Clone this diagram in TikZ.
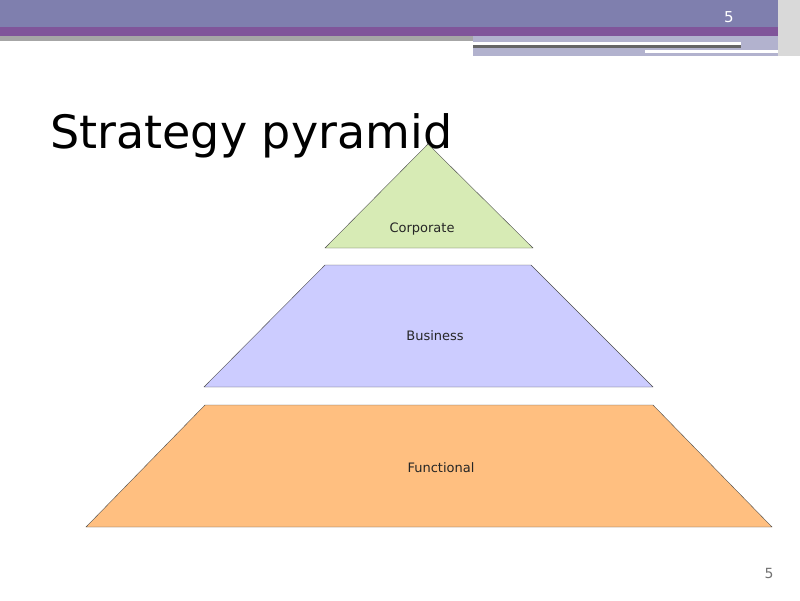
\documentclass[tikz,border=0pt]{standalone}
\usepackage{fontspec}
\setmainfont{DejaVu Sans}
\definecolor{bannerblue}{HTML}{7F7FAE}
\definecolor{bannerpurple}{HTML}{80559A}
\definecolor{corpgreen}{HTML}{D7EBB5}
\definecolor{busblue}{HTML}{CCCCFF}
\definecolor{funcorange}{HTML}{FFBF80}
\tikzset{
	level/.style={draw=black!70, thin},
	levellabel/.style={font=\fontsize{13}{15}\selectfont, text=black!85}
}
\begin{document}
\begin{tikzpicture}[x=1pt,y=-1pt]
	\useasboundingbox (0,0) rectangle (800,600);
	% banner
	\fill[bannerblue] (0,0) rectangle (778,27);
	\fill[bannerpurple] (0,27) rectangle (778,36);
	\fill[black!35] (0,36) rectangle (473,41);
	\fill[bannerblue!60] (473,36) rectangle (778,56);
	\fill[white] (473,42) rectangle (741,45);
	\fill[black!60] (473,45) rectangle (741,48);
	\fill[white] (645,50) rectangle (778,53);
	\fill[black!15] (778,0) rectangle (800,56);
	\node[text=white, font=\fontsize{15}{17}\selectfont] (topnum) at (729,17) {5};
	
	% title
	\node[anchor=base west, inner sep=0, font=\fontsize{46}{50}\selectfont] (title) at (50,148) {Strategy pyramid};
	
	% levels
	\draw[level, fill=corpgreen] (428,144) -- (533,248) -- (325,248) -- cycle;
	\draw[level, fill=busblue] (325,265) -- (531,265) -- (653,387) -- (204,387) -- cycle;
	\draw[level, fill=funcorange] (205,405) -- (653,405) -- (772,527) -- (86,527) -- cycle;
	
	\node[levellabel] (corporate) at (422,229) {Corporate};
	\node[levellabel] (business) at (435,336) {Business};
	\node[levellabel] (functional) at (441,468) {Functional};
	
	% page number
	\node[text=black!55, font=\fontsize{14}{16}\selectfont] (pagenum) at (769,573) {5};
\end{tikzpicture}
\end{document}
